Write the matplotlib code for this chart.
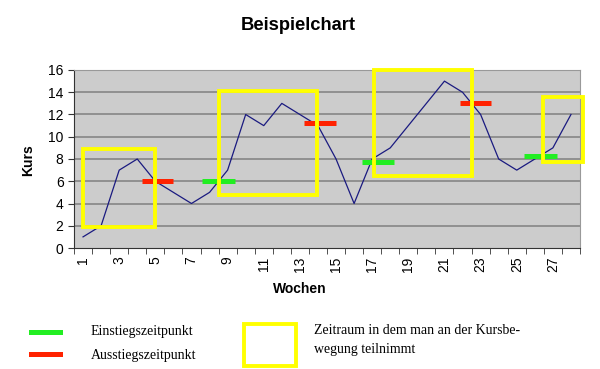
import matplotlib.pyplot as plt
import matplotlib.patches as patches
import numpy as np

wochen = np.arange(1, 29)
kurs = [1, 2, 7, 8, 6, 5, 4, 5, 7, 12, 11, 13, 12, 11, 8, 4, 8, 9, 11, 13, 15, 14, 12, 8, 7, 8, 9, 12]

# Einstieg (green) / Ausstieg (red): x start, x end, level
einstieg = [(7.6, 9.4, 6.0), (16.45, 18.2, 7.75), (25.4, 27.2, 8.3)]
ausstieg = [(4.25, 6.0, 6.0), (13.25, 15.0, 11.2), (21.85, 23.6, 13.0)]

# Zeitraeume: x0, x1, y0, y1
zeitraeume = [(1.0, 5.0, 1.9, 8.9), (8.5, 13.95, 4.8, 14.1),
              (17.1, 22.55, 6.5, 16.0), (26.45, 28.65, 7.7, 13.6)]

plt.rcParams['font.family'] = ['Liberation Sans', 'DejaVu Sans']

fig = plt.figure(figsize=(6, 3.69), dpi=100)
ax = fig.add_axes([74/600, 1 - 248/369, (580-74)/600, (248-70)/369])
ax.set_facecolor('#cccccc')

for y in range(2, 17, 2):
    ax.axhline(y, color='#808080', lw=1.1, zorder=1)

ax.plot(wochen, kurs, color='#1a1a80', lw=0.9, zorder=3)

for x0, x1, y in einstieg:
    ax.hlines(y, x0, x1, color='#22ee22', lw=3.6, zorder=4)
for x0, x1, y in ausstieg:
    ax.hlines(y, x0, x1, color='#ff2200', lw=3.6, zorder=4)

for x0, x1, y0, y1 in zeitraeume:
    ax.add_patch(patches.Rectangle((x0, y0), x1 - x0, y1 - y0, fill=False,
                                   edgecolor='#ffff00', lw=2.8, zorder=5, clip_on=False))

ax.set_xlim(0.5, 28.5)
ax.set_ylim(0, 16)
ax.set_yticks(range(0, 17, 2))
ax.set_xticks(range(1, 29, 2))
ax.set_xticklabels([str(i) for i in range(1, 29, 2)], rotation=90)
ax.set_xticks(np.arange(0.5, 29, 1), minor=True)
ax.tick_params(axis='x', which='major', length=0, pad=6, labelsize=10)
ax.tick_params(axis='x', which='minor', length=4, color='#333333')
ax.tick_params(axis='y', length=4, labelsize=10, color='#333333')

for s in ['top', 'right']:
    ax.spines[s].set_color('#999999')
for s in ['left', 'bottom']:
    ax.spines[s].set_color('#333333')

fig.text(0.497, 1 - 25/369, 'Beispielchart', ha='center', va='center', fontsize=13.2, fontweight='bold')
fig.text(28/600, 1 - 160/369, 'Kurs', ha='center', va='center', rotation=90, fontsize=10, fontweight='bold')
fig.text(300/600, 1 - 289/369, 'Wochen', ha='center', va='center', fontsize=10, fontweight='bold')

# legend below the chart
lg = fig.add_axes([0, 0, 1, 1], facecolor='none')
lg.set_xlim(0, 600)
lg.set_ylim(369, 0)
lg.axis('off')
lg.plot([31, 60], [332, 332], color='#22ee22', lw=3.6)
lg.plot([31, 60], [354, 354], color='#ff2200', lw=3.6)
lg.add_patch(patches.Rectangle((244, 324), 52, 42, fill=False, edgecolor='#ffff00', lw=2.8))
serif = ['Liberation Serif', 'DejaVu Serif']
lg.text(91, 332, 'Einstiegszeitpunkt', va='center', fontsize=10, family=serif)
lg.text(91, 355, 'Ausstiegszeitpunkt', va='center', fontsize=10, family=serif)
lg.text(314, 330, 'Zeitraum in dem man an der Kursbe-', va='center', fontsize=10, family=serif)
lg.text(314, 350, 'wegung teilnimmt', va='center', fontsize=10, family=serif)

fig.savefig('out.png', dpi=100)
